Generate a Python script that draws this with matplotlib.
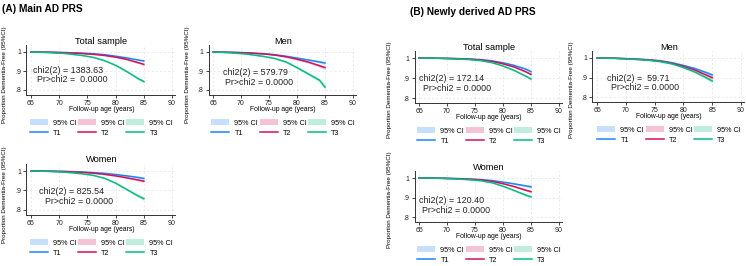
import matplotlib
matplotlib.use('Agg')
import matplotlib.pyplot as plt
from matplotlib.patches import Patch
from matplotlib.lines import Line2D

plt.rcParams['font.family'] = ['Liberation Sans', 'DejaVu Sans']

W, H = 746, 266
COLORS = ['#1a85ff', '#d41159', '#00bf7f']
GROUPS = ['T1', 'T2', 'T3']

ages = [65, 68, 71, 74, 76, 78, 80, 82, 84, 85]

# (A) main PRS
a_total = [[1.0, .999, .997, .994, .991, .986, .978, .969, .958, .953],
           [1.0, .999, .996, .992, .988, .982, .973, .961, .944, .935],
           [1.0, .997, .992, .982, .972, .955, .930, .897, .860, .845]]
a_total_ci = [[0, .001, .001, .001, .002, .002, .003, .003, .004, .005],
              [0, .001, .001, .001, .002, .002, .003, .004, .005, .006],
              [0, .001, .001, .002, .002, .003, .004, .005, .006, .008]]
a_men = [[1.0, .999, .996, .991, .986, .978, .968, .958, .948, .942],
         [1.0, .998, .995, .990, .984, .975, .962, .947, .928, .918],
         [1.0, .996, .989, .977, .966, .948, .918, .885, .852, .815]]
a_men_ci = [[0, .001, .001, .002, .002, .003, .004, .005, .006, .007],
            [0, .001, .001, .002, .002, .003, .004, .005, .007, .008],
            [0, .001, .002, .002, .003, .004, .005, .007, .009, .012]]
a_women = [[1.0, 1.0, .998, .995, .992, .988, .982, .975, .967, .962],
           [1.0, .999, .997, .993, .989, .983, .975, .965, .954, .948],
           [1.0, .998, .994, .986, .978, .963, .938, .905, .872, .858]]
a_women_ci = [[0, .001, .001, .001, .002, .002, .003, .004, .005, .006],
              [0, .001, .001, .001, .002, .002, .003, .004, .005, .007],
              [0, .001, .001, .002, .003, .003, .004, .005, .007, .009]]

# (B) newly derived PRS
b_total = [[1.0, .999, .998, .995, .992, .986, .976, .963, .945, .932],
           [1.0, .999, .997, .994, .990, .983, .971, .955, .932, .918],
           [1.0, .999, .996, .992, .987, .977, .960, .938, .910, .895]]
b_total_ci = [[0, .001, .001, .001, .002, .002, .003, .004, .005, .007],
              [0, .001, .001, .001, .002, .002, .003, .004, .005, .006],
              [0, .001, .001, .001, .002, .002, .003, .004, .005, .007]]
b_men = [[1.0, .999, .996, .991, .986, .976, .962, .946, .925, .913],
         [1.0, .999, .995, .990, .984, .973, .957, .938, .912, .899],
         [1.0, .998, .994, .988, .981, .970, .951, .928, .898, .882]]
b_men_ci = [[0, .001, .001, .002, .002, .003, .004, .005, .007, .009],
            [0, .001, .001, .002, .002, .003, .004, .005, .007, .008],
            [0, .001, .001, .002, .002, .003, .004, .005, .007, .009]]
b_women = [[1.0, 1.0, .998, .995, .992, .987, .979, .970, .960, .955],
           [1.0, .999, .997, .994, .990, .983, .971, .956, .938, .930],
           [1.0, .999, .996, .991, .986, .976, .958, .936, .913, .903]]
b_women_ci = [[0, .001, .001, .001, .002, .002, .003, .004, .005, .008],
              [0, .001, .001, .001, .002, .002, .003, .004, .005, .007],
              [0, .001, .001, .001, .002, .002, .003, .004, .006, .008]]

XLIM = (64.2, 90.6)
YLIM = (0.775, 1.035)

fig = plt.figure(figsize=(7.46, 2.66), dpi=100)


def panel(title, surv, ci, chi, pval, chi_xy, p_xy, x65, x90, y1, y08, ylab_xy):
    pxu = (x90 - x65) / 25
    pyu = (y08 - y1) / 0.2
    left = x65 - (65 - XLIM[0]) * pxu
    right = x90 + (XLIM[1] - 90) * pxu
    top = y1 - (YLIM[1] - 1) * pyu
    bottom = y08 + (0.8 - YLIM[0]) * pyu
    ax = fig.add_axes([left / W, 1 - bottom / H, (right - left) / W, (bottom - top) / H])

    for s, c, col in zip(surv, ci, COLORS):
        lo = [v - d for v, d in zip(s, c)]
        hi = [v + d for v, d in zip(s, c)]
        ax.fill_between(ages, lo, hi, color=col, alpha=0.25, lw=0)
        ax.plot(ages, s, color=col, lw=1.1)

    ax.set_xlim(XLIM)
    ax.set_ylim(YLIM)
    ax.set_xticks([65, 70, 75, 80, 85, 90])
    ax.set_yticks([0.8, 0.9, 1.0])
    ax.set_yticklabels(['.8', '.9', '1'])
    ax.tick_params(labelsize=5.0, length=2.2, width=0.6, pad=1.5, colors='#222222')
    ax.grid(True, color='#e3e3e3', lw=0.5, ls=(0, (3, 3)))
    ax.set_axisbelow(True)
    for side in ['top', 'right']:
        ax.spines[side].set_visible(False)
    for side in ['left', 'bottom']:
        ax.spines[side].set_linewidth(0.7)
        ax.spines[side].set_color('#333333')

    ax.text(chi_xy[0], chi_xy[1], chi, fontsize=6.4, va='center', ha='left', color='#222222')
    ax.text(p_xy[0], p_xy[1], pval, fontsize=6.4, va='center', ha='left', color='#222222')

    cx = (x65 + x90) / 2
    fig.text(cx / W, 1 - (y1 - 11) / H, title, fontsize=6.7, ha='center', va='center')
    fig.text(cx / W, 1 - (y08 + 19.5) / H, 'Follow-up age (years)', fontsize=4.9,
             ha='center', va='center')
    fig.text(ylab_xy[0] / W, 1 - ylab_xy[1] / H, 'Proportion Dementia-Free (95%CI)',
             fontsize=4.5, rotation=90, ha='center', va='center')

    handles, labels = [], []
    for g, col in zip(GROUPS, COLORS):
        handles.append(Patch(facecolor=col, alpha=0.25, edgecolor='none'))
        labels.append('95% CI')
        handles.append(Line2D([], [], color=col, lw=1.1))
        labels.append(g)
    fig.legend(handles, labels, ncol=3, loc='center', frameon=False,
               bbox_to_anchor=(cx / W, 1 - (y08 + 38) / H),
               fontsize=5.2, handlelength=2.5, handleheight=1.0, handletextpad=0.7,
               columnspacing=0.2, labelspacing=0.35, borderpad=0, borderaxespad=0)


panel('Total sample', a_total, a_total_ci, 'chi2(2) = 1383.63', 'Pr>chi2 =  0.0000',
      (65.35, 0.905), (66.06, 0.853), 31, 172, 52, 90, (5, 75))
panel('Men', a_men, a_men_ci, 'chi2(2) = 579.79', 'Pr>chi2 = 0.0000',
      (66.7, 0.893), (67.1, 0.84), 213, 353, 52, 90, (187, 75))
panel('Women', a_women, a_women_ci, 'chi2(2) = 825.54', 'Pr>chi2 = 0.0000',
      (66.5, 0.894), (67.5, 0.843), 31, 172, 171, 210, (5, 195))
panel('Total sample', b_total, b_total_ci, 'chi2(2) = 172.14', 'Pr>chi2 = 0.0000',
      (65.05, 0.898), (65.65, 0.848), 419, 559, 58, 98, (390, 90))
panel('Men', b_men, b_men_ci, 'chi2(2) =  59.71', 'Pr>chi2 = 0.0000',
      (66.8, 0.896), (67.4, 0.848), 597, 741, 58, 97, (572, 90))
panel('Women', b_women, b_women_ci, 'chi2(2) = 120.40', 'Pr>chi2 = 0.0000',
      (65.05, 0.884), (65.5, 0.832), 419, 559, 178, 217, (390, 200))

fig.text(2 / W, 1 - 9 / H, '(A) Main AD PRS', fontsize=7.3, weight='bold',
         ha='left', va='center')
fig.text(410 / W, 1 - 12 / H, '(B) Newly derived AD PRS', fontsize=7.3, weight='bold',
         ha='left', va='center')

fig.savefig('out.png', dpi=100)
